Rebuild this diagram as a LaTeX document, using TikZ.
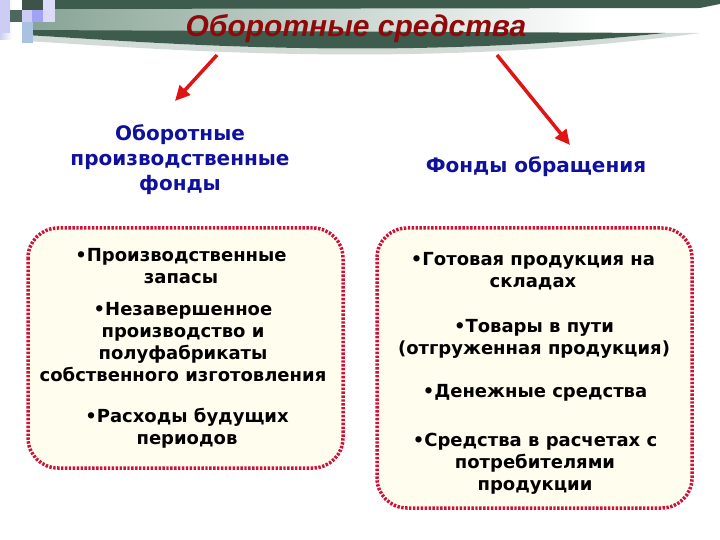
\documentclass[tikz,border=0pt]{standalone}
\usepackage{fontspec}
\setmainfont{DejaVu Sans}
\newfontfamily\ttlfont{Liberation Sans}
\usetikzlibrary{arrows.meta}
\definecolor{banddark}{HTML}{3E5C4E}
\definecolor{bandmid}{HTML}{86A394}
\definecolor{bandshadow}{HTML}{D3DBD7}
\definecolor{lav}{HTML}{CCCCF4}
\definecolor{lblue}{HTML}{A9C2E2}
\definecolor{sqdark}{HTML}{4E665C}
\definecolor{titlered}{HTML}{8E0A0A}
\definecolor{hdrblue}{HTML}{10109E}
\definecolor{cream}{HTML}{FFFDEE}
\definecolor{dotred}{HTML}{CE1236}
\definecolor{arrred}{HTML}{E01414}
\tikzset{
  body/.style={font=\fontsize{18}{22}\selectfont\bfseries, align=center, text=black, inner sep=0pt},
  hdr/.style={font=\fontsize{20}{25}\selectfont\bfseries, align=center, text=hdrblue, inner sep=0pt},
  panel/.style={draw=dotred, fill=cream, line width=3.5pt, dash pattern=on 2.4pt off 1.5pt, rounded corners=30pt},
  bigarrow/.style={draw=arrred, line width=3.5pt, -{Triangle[length=15pt,width=14pt]}}
}
\begin{document}
\begin{tikzpicture}[x=1pt,y=-1pt]
\useasboundingbox (0,0) rectangle (720,540);
\fill[white] (0,0) rectangle (720,540);
% header band
\shade[left color=bandmid, right color=white] (25,8) rectangle (600,33);
\fill[white] (600,8) rectangle (720,33);
\fill[banddark] (25,0) -- (720,0) -- (720,4) -- (700,8) -- (25,9) -- cycle;
\fill[bandshadow] (25,35) .. controls (80,38) and (180,46) .. (300,48) .. controls (420,50) and (540,46) .. (665,33)
  -- (700,33) .. controls (560,52) and (420,56) .. (300,54) .. controls (180,52) and (80,44) .. (25,41) -- cycle;
\fill[banddark] (25,30) -- (665,33) .. controls (540,46) and (420,50) .. (300,48) .. controls (180,46) and (80,38) .. (25,35) -- cycle;
% corner squares
\shade[left color=lav, right color=white] (0,0) rectangle (12,40);
\fill[lav] (0,0) rectangle (10,33);
\fill[sqdark] (10,10) rectangle (22,22);
\fill[sqdark!80!black] (22,0) rectangle (43,10);
\fill[lav] (22,10) rectangle (32,22);
\fill[lav!80!blue] (32,10) rectangle (43,22);
\fill[lblue] (22,22) rectangle (33,43);
\fill[lav!70] (43,0) rectangle (55,22);
% title
\node[font=\ttlfont\fontsize{30}{36}\selectfont\bfseries\itshape, text=titlered, inner sep=0pt] (title) at (356,29) {Оборотные средства};
% arrows
\coordinate (la) at (217,55);
\coordinate (lb) at (175,101);
\coordinate (ra) at (497,55);
\coordinate (rb) at (570,145);
\draw[bigarrow] (la) -- (lb);
\draw[bigarrow] (ra) -- (rb);
% headers
\node[hdr] (hl) at (180,160) {Оборотные\\производственные\\фонды};
\node[hdr] (hr) at (536,167) {Фонды обращения};
% panels
\draw[panel] (28,228) rectangle (343,468);
\draw[panel] (377,228) rectangle (692,508);
% left items
\node[body] (l1) at (181,266) {•Производственные\\запасы};
\node[body] (l2) at (183,342) {•Незавершенное\\производство и\\полуфабрикаты\\собственного изготовления};
\node[body] (l3) at (187,428) {•Расходы будущих\\периодов};
% right items
\node[body] (r1) at (533,271) {•Готовая продукция на\\складах};
\node[body] (r2) at (534,339) {•Товары в пути\\(отгруженная продукция)};
\node[body] (r3) at (535,393) {•Денежные средства};
\node[body] (r4) at (535,464) {•Средства в расчетах с\\потребителями\\продукции};
\end{tikzpicture}
\end{document}
